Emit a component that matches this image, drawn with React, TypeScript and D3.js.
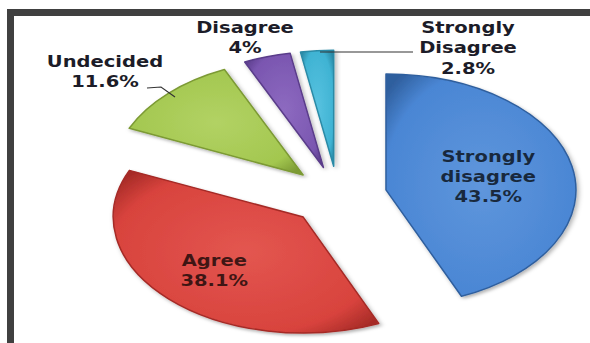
import React from "react";
import * as d3 from "d3";

const categories = ["Strongly disagree", "Agree", "Undecided", "Disagree", "Strongly Disagree"];
const values = [43.5, 38.1, 11.6, 4, 2.8];
const valueLabels = ["43.5%", "38.1%", "11.6%", "4%", "2.8%"];
const labelLines = [
  ["Strongly", "disagree", "43.5%"],
  ["Agree", "38.1%"],
  ["Undecided", "11.6%"],
  ["Disagree", "4%"],
  ["Strongly", "Disagree", "2.8%"],
];
const baseColors = ["#4a86d4", "#d8433d", "#a3c74f", "#7a56b0", "#3fb3d3"];
const darkColors = ["#2f5f9e", "#a52a26", "#7c9a34", "#5a3c8a", "#2a8aa6"];
const lightColors = ["#5f96dc", "#e35650", "#b2d264", "#8d6ac0", "#58c2e0"];

const W = 590;
const H = 343;
const CX = 338;
const CY = 196;
const R = 190;
const SQUASH = 0.61;
const EXPLODE = 49;
const TEXT_SX = 1.22;

// label placement: inside (radius fraction) or outside (fixed anchor)
const insideLabelRadius: Record<number, number> = { 0: 0.55, 1: 0.66 };
const outsideLabels: Record<number, { x: number; y: number; line?: [number, number][] }> = {
  2: { x: 105, y: 67, line: [[147, 88], [161, 87], [175, 97]] },
  3: { x: 245, y: 33 },
  4: { x: 468, y: 33, line: [[320, 52], [413, 52]] },
};

export default function App() {
  const pie = d3
    .pie<number>()
    .sort(null)
    .value((d) => d)
    .startAngle(0)
    .endAngle(2 * Math.PI);
  const arcs = pie(values);
  const arcGen = d3.arc<d3.PieArcDatum<number>>().innerRadius(0).outerRadius(R);

  const offset = (a: d3.PieArcDatum<number>) => {
    const mid = (a.startAngle + a.endAngle) / 2;
    return [EXPLODE * Math.sin(mid), -EXPLODE * Math.cos(mid)];
  };
  const toScreen = (x: number, y: number) => [CX + x, CY + y * SQUASH];
  const lineGen = d3.line();

  return (
    <svg
      width={W}
      height={H}
      style={{ position: "absolute", left: 0, top: 0, background: "#fff" }}
      fontFamily="'DejaVu Sans', sans-serif"
    >
      <defs>
        {arcs.map((a, i) => (
          <radialGradient key={i} id={`g${i}`} cx="50%" cy="50%" r="65%">
            <stop offset="0%" stopColor={lightColors[i]} />
            <stop offset="78%" stopColor={baseColors[i]} />
            <stop offset="100%" stopColor={darkColors[i]} />
          </radialGradient>
        ))}
        <filter id="shadow" x="-20%" y="-20%" width="140%" height="140%">
          <feDropShadow dx="2" dy="3" stdDeviation="2.5" floodColor="#000" floodOpacity="0.3" />
        </filter>
      </defs>
      <rect x={0} y={0} width={W} height={H} fill="#fff" />
      <rect x={7} y={9} width={W - 7} height={7} fill="#404040" />
      <rect x={7} y={9} width={7} height={H - 9} fill="#404040" />

      <g transform={`translate(${CX},${CY}) scale(1,${SQUASH})`}>
        {arcs.map((a, i) => {
          const [ox, oy] = offset(a);
          return (
            <path
              key={categories[i]}
              d={arcGen(a) || ""}
              transform={`translate(${ox},${oy})`}
              fill={`url(#g${i})`}
              stroke={darkColors[i]}
              strokeWidth={1.5}
              vectorEffect="non-scaling-stroke"
              strokeLinejoin="round"
              filter="url(#shadow)"
            />
          );
        })}
      </g>

      {arcs.map((a, i) => {
        const lines = labelLines[i];
        let x: number, y: number;
        const outside = outsideLabels[i];
        if (outside) {
          x = outside.x;
          y = outside.y;
        } else {
          const [ox, oy] = offset(a);
          const mid = (a.startAngle + a.endAngle) / 2;
          const rr = R * insideLabelRadius[i];
          const [sx, sy] = toScreen(ox + rr * Math.sin(mid), oy - rr * Math.cos(mid));
          x = sx;
          y = sy - ((lines.length - 1) * 20.5) / 2 + 5;
        }
        return (
          <g key={`l${i}`}>
            {outside && outside.line && (
              <path d={lineGen(outside.line) || ""} fill="none" stroke="#333" strokeWidth={1.2} />
            )}
            <g transform={`translate(${x},${y}) scale(${TEXT_SX},1)`}>
              <text
                textAnchor="middle"
                fontSize={16}
                fontWeight="bold"
                fill={outside ? "#1c1c28" : "#000"}
                fillOpacity={outside ? 1 : 0.72}
              >
                {lines.map((ln, k) => (
                  <tspan key={k} x={0} dy={k === 0 ? 0 : 20.5}>
                    {ln}
                  </tspan>
                ))}
              </text>
            </g>
          </g>
        );
      })}
      <title>{categories.map((c, i) => `${c} ${valueLabels[i]}`).join(", ")}</title>
    </svg>
  );
}
